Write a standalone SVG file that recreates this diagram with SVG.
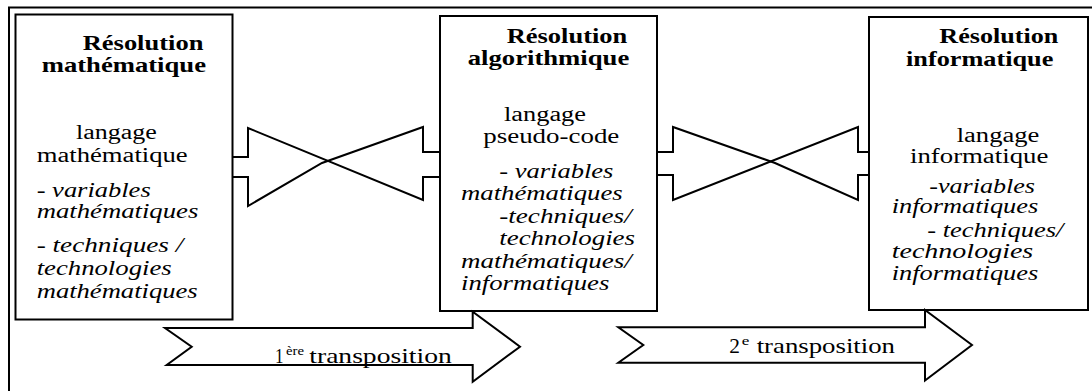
<svg xmlns="http://www.w3.org/2000/svg" width="1092" height="391" viewBox="0 0 1092 391">
<style>
.ln{fill:none;stroke:#000;stroke-width:2;stroke-linejoin:miter}
.box{fill:#fff;stroke:#000;stroke-width:2}
text{font-family:'Liberation Serif','Times New Roman',serif;font-size:20px;fill:#000}
.b{font-weight:bold;font-size:21px}
.i{font-style:italic}
.sup{font-size:12px}
.tr{font-size:21px}
</style>
<rect width="1092" height="391" fill="#fff"/>
<g id="frame">
<polyline class="ln" points="9,391 9,7.5 1092,7.5"/>
</g>
<g id="connectors">
<polyline class="ln" points="233,157 248,157 248,128 423,200 423,177 439,177"/>
<polyline class="ln" points="439,152 423,152 423,127 322,163 248,206 248,177 233,177"/>
<polyline class="ln" points="657,152 673,152 673,127 775,163 858,200 858,175 869,175"/>
<polyline class="ln" points="869,152 858,152 858,127 673,200 673,175 657,175"/>
</g>
<g id="node-math">
<rect class="box" x="15.5" y="14.5" width="217" height="305"/>
<text class="b" x="82.7" y="50" textLength="120.7" lengthAdjust="spacingAndGlyphs">Résolution</text>
<text class="b" x="41.7" y="72" textLength="164.3" lengthAdjust="spacingAndGlyphs">mathématique</text>
<text x="76" y="139.3" textLength="80.7" lengthAdjust="spacingAndGlyphs">langage</text>
<text x="36.7" y="162.3" textLength="151" lengthAdjust="spacingAndGlyphs">mathématique</text>
<text class="i" x="36.7" y="196.7" textLength="114" lengthAdjust="spacingAndGlyphs">- variables</text>
<text class="i" x="36.7" y="218.3" textLength="161.6" lengthAdjust="spacingAndGlyphs">mathématiques</text>
<text class="i" x="36.7" y="251.7" textLength="146.6" lengthAdjust="spacingAndGlyphs">- techniques /</text>
<text class="i" x="36.7" y="275" textLength="135" lengthAdjust="spacingAndGlyphs">technologies</text>
<text class="i" x="36.7" y="297.7" textLength="161" lengthAdjust="spacingAndGlyphs">mathématiques</text>
</g>
<g id="node-algo">
<rect class="box" x="440" y="16" width="217" height="295"/>
<text class="b" x="506.7" y="42.7" textLength="120.6" lengthAdjust="spacingAndGlyphs">Résolution</text>
<text class="b" x="467.7" y="65" textLength="161.6" lengthAdjust="spacingAndGlyphs">algorithmique</text>
<text x="504" y="120.7" textLength="82" lengthAdjust="spacingAndGlyphs">langage</text>
<text x="483.3" y="143.3" textLength="136" lengthAdjust="spacingAndGlyphs">pseudo-code</text>
<text class="i" x="499.3" y="178.3" textLength="114" lengthAdjust="spacingAndGlyphs">- variables</text>
<text class="i" x="461" y="200" textLength="161.7" lengthAdjust="spacingAndGlyphs">mathématiques</text>
<text class="i" x="499.3" y="222.7" textLength="132.4" lengthAdjust="spacingAndGlyphs">-techniques/</text>
<text class="i" x="499.3" y="245" textLength="135.7" lengthAdjust="spacingAndGlyphs">technologies</text>
<text class="i" x="461" y="267.7" textLength="170.7" lengthAdjust="spacingAndGlyphs">mathématiques/</text>
<text class="i" x="461" y="290" textLength="148.3" lengthAdjust="spacingAndGlyphs">informatiques</text>
</g>
<g id="node-info">
<rect class="box" x="869" y="17" width="219" height="293"/>
<text class="b" x="939.3" y="43.3" textLength="119" lengthAdjust="spacingAndGlyphs">Résolution</text>
<text class="b" x="906" y="66" textLength="147.3" lengthAdjust="spacingAndGlyphs">informatique</text>
<text x="956.7" y="141.7" textLength="82.6" lengthAdjust="spacingAndGlyphs">langage</text>
<text x="910" y="163.3" textLength="138.3" lengthAdjust="spacingAndGlyphs">informatique</text>
<text class="i" x="929.3" y="193.3" textLength="105.7" lengthAdjust="spacingAndGlyphs">-variables</text>
<text class="i" x="891.7" y="213.3" textLength="146.6" lengthAdjust="spacingAndGlyphs">informatiques</text>
<text class="i" x="927.3" y="236.7" textLength="136" lengthAdjust="spacingAndGlyphs">- techniques/</text>
<text class="i" x="891.7" y="258.3" textLength="141.6" lengthAdjust="spacingAndGlyphs">technologies</text>
<text class="i" x="891.7" y="280" textLength="146.6" lengthAdjust="spacingAndGlyphs">informatiques</text>
</g>
<g id="transposition-1">
<polygon class="box" points="165,328 472.7,328 472.7,311.7 520,346.7 472.7,381.7 472.7,365 166.7,365 191.7,346.7"/>
<text class="tr" x="275" y="363.3" textLength="8.5" lengthAdjust="spacingAndGlyphs">1</text>
<text class="sup" x="286" y="355" textLength="18" lengthAdjust="spacingAndGlyphs">ère</text>
<text class="tr" x="309.3" y="363.3" textLength="142.4" lengthAdjust="spacingAndGlyphs">transposition</text>
</g>
<g id="transposition-2">
<polygon class="box" points="618.3,327.3 925,327.3 925,310 972,345 925,380.5 925,362.7 618.3,362.7 643.3,345"/>
<text class="tr" x="729.3" y="352.7" textLength="10.7" lengthAdjust="spacingAndGlyphs">2</text>
<text class="sup" x="741.7" y="344.5" textLength="7.6" lengthAdjust="spacingAndGlyphs">e</text>
<text class="tr" x="756.7" y="352.7" textLength="138.3" lengthAdjust="spacingAndGlyphs">transposition</text>
</g>
</svg>
